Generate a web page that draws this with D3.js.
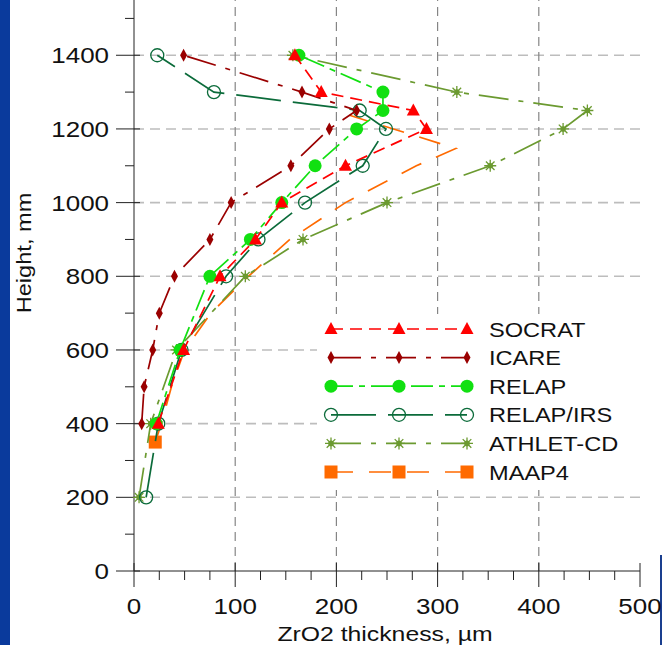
<!DOCTYPE html>
<html>
<head>
<meta charset="utf-8">
<script src="https://cdn.jsdelivr.net/npm/d3@7"></script>
<style>
  body { margin: 0; background: #fff; }
  svg { display: block; font-family: "Liberation Sans", Arial, sans-serif; }
</style>
</head>
<body>
<svg id="chart" width="662" height="645"></svg>
<script>
// data (thickness in µm, height in mm)
const xTicks = [0, 100, 200, 300, 400, 500];
const yTicks = [0, 200, 400, 600, 800, 1000, 1200, 1400];

const socratH = [400, 600, 800, 900, 1000, 1100, 1200, 1250, 1300, 1400];
const socratX = [24, 49, 85, 120, 146, 209, 289, 276, 185, 159];

const icareH = [400, 500, 600, 700, 800, 900, 1000, 1100, 1200, 1250, 1300, 1400];
const icareX = [7.6, 10, 18.5, 25, 40, 75, 96, 155, 193, 220, 166, 49];

const relapH = [400, 600, 800, 900, 1000, 1100, 1200, 1250, 1300, 1400];
const relapX = [22, 45.5, 75, 115, 146, 179, 220, 246, 246, 163];

const irsH = [200, 400, 600, 800, 900, 1000, 1100, 1200, 1250, 1300, 1400];
const irsX = [12, 24, 47, 91, 123, 169, 226, 249, 223, 79, 23];

const athletH = [200, 400, 600, 800, 900, 1000, 1100, 1200, 1250, 1300, 1400];
const athletX = [5, 16.5, 42, 110, 167, 250, 352, 424, 448, 319, 157];

const maapH = [350, 400, 500, 600, 700, 800, 900, 1000, 1100, 1147, 1237];
const maapX = [21, 27, 37, 50, 76, 113, 154, 209, 279, 318, 213];

const seriesNames = ['SOCRAT', 'ICARE', 'RELAP', 'RELAP/IRS', 'ATHLET-CD', 'MAAP4'];

const svg = d3.select('#chart');
const x = d3.scaleLinear().domain([0, 500]).range([134, 640]);
const y = d3.scaleLinear().domain([0, 1550]).range([571, 0]);

// the original text is a bit wider than plain Arial, so stretch it sideways
const STRETCH = 1.18;
const label = (parent, tx, ty, str, size, anchor, rot) => parent.append('text')
  .attr('transform', `translate(${tx},${ty})${rot ? ' rotate(' + rot + ')' : ''} scale(${STRETCH},1)`)
  .attr('text-anchor', anchor || 'start')
  .attr('font-size', size).attr('fill', '#111').text(str);

// left blue strip + right edge line
svg.append('rect').attr('x', 0).attr('y', 0).attr('width', 10).attr('height', 645).attr('fill', '#0a3a9c');
svg.append('line').attr('x1', 661).attr('x2', 661).attr('y1', 555).attr('y2', 645)
  .attr('stroke', '#1a3f8f').attr('stroke-width', 2);

// grid
const grid = svg.append('g');
grid.selectAll('.hg').data(yTicks.filter(d => d > 0)).enter().append('line')
  .attr('x1', x(0)).attr('x2', x(500))
  .attr('y1', d => y(d)).attr('y2', d => y(d))
  .attr('stroke', '#bdbdbd').attr('stroke-width', 1.6).attr('stroke-dasharray', '10,6');
grid.selectAll('.vg').data(xTicks.filter(d => d > 0 && d < 500)).enter().append('line')
  .attr('x1', d => x(d)).attr('x2', d => x(d))
  .attr('y1', y(0)).attr('y2', 0)
  .attr('stroke', '#858585').attr('stroke-width', 1.2).attr('stroke-dasharray', '9,6');

// axes
const xAxis = svg.append('g');
xAxis.append('line').attr('x1', x(0)).attr('x2', x(500)).attr('y1', y(0)).attr('y2', y(0)).attr('stroke', '#222');
xAxis.selectAll('.mn').data(d3.range(0, 501, 25).filter(d => d % 100 !== 0)).enter().append('line')
  .attr('x1', d => x(d)).attr('x2', d => x(d)).attr('y1', y(0)).attr('y2', y(0) + 9).attr('stroke', '#222');
xAxis.selectAll('.mj').data(xTicks).enter().append('line')
  .attr('x1', d => x(d)).attr('x2', d => x(d)).attr('y1', y(0) - 8).attr('y2', y(0) + 16).attr('stroke', '#222');
xTicks.forEach(d => label(xAxis, x(d), 614, d, 22, 'middle'));

const yAxis = svg.append('g');
yAxis.append('line').attr('x1', x(0)).attr('x2', x(0)).attr('y1', y(0)).attr('y2', 0).attr('stroke', '#222');
yAxis.selectAll('.mn').data(d3.range(100, 1501, 200)).enter().append('line')
  .attr('x1', x(0) - 9).attr('x2', x(0)).attr('y1', d => y(d)).attr('y2', d => y(d)).attr('stroke', '#222');
yAxis.selectAll('.mj').data(yTicks).enter().append('line')
  .attr('x1', x(0) - 18).attr('x2', x(0) + 6).attr('y1', d => y(d)).attr('y2', d => y(d)).attr('stroke', '#222');
yTicks.forEach(d => label(yAxis, 109, y(d) + 8, d, 22, 'end'));

label(svg, 385, 641, 'ZrO2 thickness, \u00b5m', 21, 'middle');
label(svg, 31, 253, 'Height, mm', 20, 'middle', -90);

// marker painters
const markers = {
  triangle: (g, c) => g.append('path').attr('d', 'M0,-7L6.5,5L-6.5,5Z').attr('fill', c),
  diamond: (g, c) => g.append('path').attr('d', 'M0,-6.5L3.5,0L0,6.5L-3.5,0Z').attr('fill', c),
  dot: (g, c) => g.append('circle').attr('r', 6.5).attr('fill', c),
  ring: (g, c) => g.append('circle').attr('r', 6.5).attr('fill', 'none').attr('stroke', c).attr('stroke-width', 1.3),
  star: (g, c) => {
    g.append('path').attr('d', 'M-6,0H6M0,-6V6M-4.3,-4.3L4.3,4.3M-4.3,4.3L4.3,-4.3')
      .attr('stroke', c).attr('stroke-width', 1.3);
    g.append('circle').attr('r', 2.8).attr('fill', c);
  },
  square: (g, c) => g.append('rect').attr('x', -6.5).attr('y', -6.5).attr('width', 13).attr('height', 13).attr('fill', c)
};

const series = [
  { name: seriesNames[5], h: maapH, v: maapX, color: '#ff6a00', dash: '22,16', mark: 'square', marked: [0] },
  { name: seriesNames[4], h: athletH, v: athletX, color: '#6b9a30', dash: '30,10,5,10', mark: 'star' },
  { name: seriesNames[3], h: irsH, v: irsX, color: '#0b6b3a', dash: '45,12', mark: 'ring' },
  { name: seriesNames[1], h: icareH, v: icareX, color: '#9a0000', dash: '30,10,5,10', mark: 'diamond' },
  { name: seriesNames[2], h: relapH, v: relapX, color: '#11e011', dash: '22,6,6,6', mark: 'dot' },
  { name: seriesNames[0], h: socratH, v: socratX, color: '#ff0000', dash: '12,7', mark: 'triangle' }
];

const line = d3.line().x(d => x(d[0])).y(d => y(d[1]));
const plot = svg.append('g');

series.forEach(s => {
  const pts = s.h.map((h, i) => [s.v[i], h]);
  plot.append('path').datum(pts).attr('d', line)
    .attr('fill', 'none').attr('stroke', s.color).attr('stroke-width', 1.7)
    .attr('stroke-dasharray', s.dash);
  const shown = s.marked ? s.marked.map(i => pts[i]) : pts;
  shown.forEach(p => {
    const g = plot.append('g').attr('transform', `translate(${x(p[0])},${y(p[1])})`);
    markers[s.mark](g, s.color);
  });
});

// legend
const legend = svg.append('g');
legend.append('rect').attr('x', 317).attr('y', 314).attr('width', 330).attr('height', 176).attr('fill', '#fff');
const byName = {};
series.forEach(s => { byName[s.name] = s; });
seriesNames.forEach((name, i) => {
  const s = byName[name];
  const ly = 329 + i * 28.6;
  legend.append('line').attr('x1', 331).attr('x2', 467).attr('y1', ly).attr('y2', ly)
    .attr('stroke', s.color).attr('stroke-width', 1.7).attr('stroke-dasharray', s.dash);
  [331, 399, 467].forEach(mx => {
    const g = legend.append('g').attr('transform', `translate(${mx},${ly})`);
    markers[s.mark](g, s.color);
  });
  label(legend, 489, ly + 7.5, name, 20);
});
</script>
</body>
</html>
